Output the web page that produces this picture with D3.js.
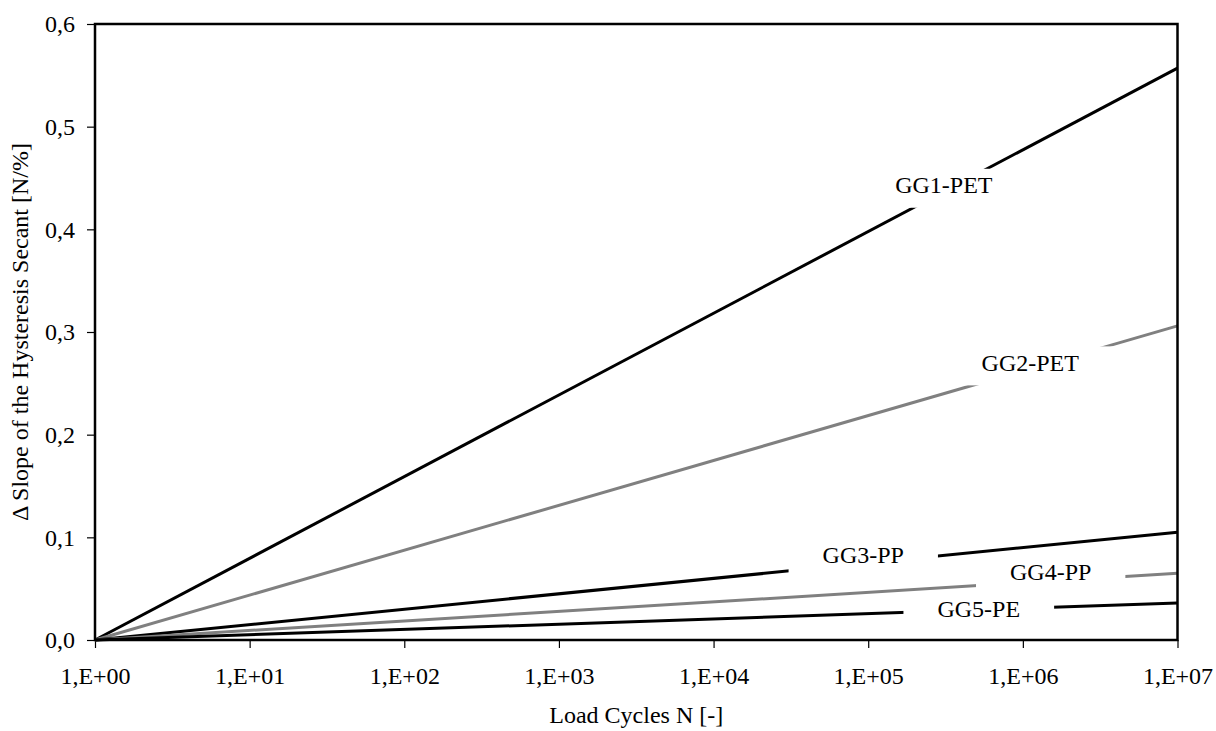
<!DOCTYPE html>
<html>
<head>
<meta charset="utf-8">
<script src="https://cdn.jsdelivr.net/npm/d3@7"></script>
<style>
  html, body { margin: 0; padding: 0; background: #fff; }
  svg { display: block; font-family: "Liberation Serif", "Times New Roman", serif; }
</style>
</head>
<body>
<svg id="chart" width="1216" height="731"></svg>
<script>
// ---- data ----
const cycles = [1, 1e7];
const seriesNames = ["GG1-PET", "GG2-PET", "GG3-PP", "GG4-PP", "GG5-PE"];
const seriesColors = ["#000000", "#808080", "#000000", "#808080", "#000000"];
const endValues = [0.557, 0.306, 0.105, 0.065, 0.036];
const startValues = [0, 0, 0, 0, 0];
const labelCycles = [10 ** 5.489, 10 ** 6.048, 10 ** 4.968, 10 ** 6.18, 10 ** 5.715];
const labelValues = [0.440, 0.267, 0.080, 0.0633, 0.0276];
const xTicks = [1, 1e1, 1e2, 1e3, 1e4, 1e5, 1e6, 1e7];
const xTickLabels = ["1,E+00", "1,E+01", "1,E+02", "1,E+03", "1,E+04", "1,E+05", "1,E+06", "1,E+07"];
const yTicks = [0, 0.1, 0.2, 0.3, 0.4, 0.5, 0.6];
const yTickLabels = ["0,0", "0,1", "0,2", "0,3", "0,4", "0,5", "0,6"];
const xTitle = "Load Cycles N [-]";
const yTitle = "\u0394 Slope of the Hysteresis Secant [N/%]";

// ---- layout ----
const svg = d3.select("#chart");
const L = 95, R = 1177.5, T = 24, B = 640;
const x = d3.scaleLog().domain([1, 1e7]).range([L, R]);
const y = d3.scaleLinear().domain([0, 0.6]).range([B, T]);

// axes
const xAxis = d3.axisBottom(x).tickValues(xTicks)
  .tickFormat((d, i) => xTickLabels[i]).tickSize(8).tickPadding(19);
const yAxis = d3.axisLeft(y).tickValues(yTicks)
  .tickFormat((d, i) => yTickLabels[i]).tickSize(8).tickPadding(12);

const gx = svg.append("g").attr("transform", `translate(0,${B})`).call(xAxis);
const gy = svg.append("g").attr("transform", `translate(${L},0)`).call(yAxis);
[gx, gy].forEach(g => {
  g.select(".domain").remove();
  g.selectAll(".tick line").attr("stroke", "#000").attr("stroke-width", 1.2);
  g.selectAll(".tick text").attr("fill", "#000")
    .style("font-family", "Liberation Serif, serif").style("font-size", "24px");
});

// lines
const line = d3.line().x(d => x(d[0])).y(d => y(d[1]));
seriesNames.forEach((name, i) => {
  const pts = cycles.map((c, j) => [c, j === 0 ? startValues[i] : endValues[i]]);
  svg.append("path").datum(pts)
    .attr("d", line)
    .attr("fill", "none")
    .attr("stroke", seriesColors[i])
    .attr("stroke-width", 3);
});

// labels with white boxes
seriesNames.forEach((name, i) => {
  const cx = x(labelCycles[i]), cy = y(labelValues[i]);
  const g = svg.append("g");
  const rect = g.append("rect").attr("fill", "#fff");
  const t = g.append("text")
    .attr("x", cx).attr("y", cy + 5)
    .attr("text-anchor", "middle")
    .style("font-size", "24px")
    .attr("fill", "#000")
    .text(name);
  const w = t.node().getComputedTextLength() + 68;
  const h = 39;
  rect.attr("x", cx - w / 2).attr("y", cy - h / 2).attr("width", w).attr("height", h);
});

// plot frame
svg.append("rect")
  .attr("x", L).attr("y", T).attr("width", R - L).attr("height", B - T)
  .attr("fill", "none").attr("stroke", "#000").attr("stroke-width", 2.5);

// titles
svg.append("text")
  .attr("x", (L + R) / 2).attr("y", 723)
  .attr("text-anchor", "middle").style("font-size", "24px")
  .text(xTitle);
svg.append("text")
  .attr("transform", `translate(28,${(T + B) / 2}) rotate(-90)`)
  .attr("text-anchor", "middle").style("font-size", "24px")
  .text(yTitle);
</script>
</body>
</html>
